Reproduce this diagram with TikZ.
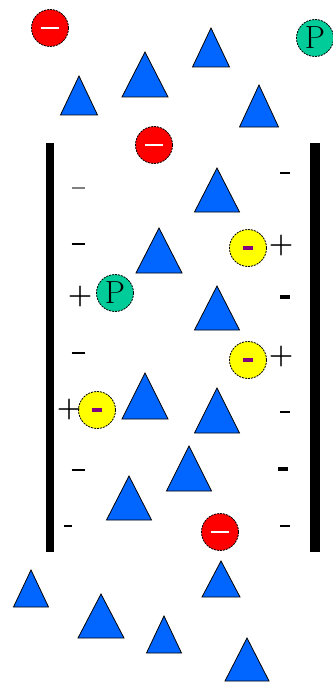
\documentclass[tikz,border=0pt]{standalone}
\usepackage{tikz}

\definecolor{ionblue}{RGB}{0,102,255}
\definecolor{ionred}{RGB}{255,0,0}
\definecolor{iongreen}{RGB}{0,204,153}
\definecolor{ionyellow}{RGB}{255,255,0}
\definecolor{ionpurple}{RGB}{128,0,128}

\tikzset{
  ion/.style={circle,draw=black,dash pattern=on 2pt off 1pt,line width=0.8pt,minimum size=37pt,inner sep=0pt},
  anion/.style={ion,fill=ionred},
  pion/.style={ion,fill=iongreen,font=\fontsize{32}{32}\selectfont},
  yion/.style={ion,fill=ionyellow},
  tri/.style={fill=ionblue,draw=black,line width=0.8pt,line join=miter},
  wall/.style={fill=black},
  sign/.style={inner sep=0pt,font=\fontsize{28}{28}\selectfont\bfseries}
}

\newcommand{\whitebar}{\textcolor{white}{\rule{18pt}{2.5pt}}}
\newcommand{\purplebar}{\textcolor{ionpurple}{\rule{10pt}{3.5pt}}}
\newcommand{\thinbar}[1]{\rule{#1}{1.5pt}}
\newcommand{\boldbar}[1]{\rule{#1}{3.5pt}}

\begin{document}
\begin{tikzpicture}[x=1pt,y=-1pt]
        \useasboundingbox (0,0) rectangle (332,682);

        % membrane walls
        \fill[wall] (46,143) rectangle (54,552);
        \fill[wall] (310,143) rectangle (320,552);

        % blue triangles: apex x / base y / half width / height
        \foreach \x/\y/\w/\h in {211/67/18.5/39, 145/97/23/45, 79/115/18.5/39,
                259/127/19.5/42, 217/212/22.5/44, 159/273/23/45,
                217/330/22.5/44, 145/419/23/46, 217/433/22.5/45,
                189/491/22.5/45, 129/520/22.5/44, 221/597/19/36,
                31/607/17.5/37, 101/638/23/44, 164/653/17.5/37, 247/681/22/43}
            \filldraw[tri] (\x-\w,\y) -- (\x,\y-\h) -- (\x+\w,\y) -- cycle;

        % ions
        \node[anion] (r1) at (50,28) {\whitebar};
        \node[anion] (r2) at (154,145) {\whitebar};
        \node[anion] (r3) at (220,532) {\whitebar};
        \node[pion] (p1) at (315,38) {P};
        \node[pion] (p2) at (115,293) {P};
        \node[yion] (y1) at (248,248) {\purplebar};
        \node[yion] (y2) at (248,360) {\purplebar};
        \node[yion] (y3) at (97,410) {\purplebar};

        % charges on the left wall
        \node[sign,text=gray] (l1) at (78,188) {\thinbar{13pt}};
        \node[sign] (l2) at (78,244) {\thinbar{13pt}};
        \node[sign] (l3) at (80,297) {+};
        \node[sign] (l4) at (78,353) {\thinbar{13pt}};
        \node[sign] (l5) at (69,410) {+};
        \node[sign] (l6) at (78,470) {\thinbar{13pt}};
        \node[sign] (l7) at (68,526) {\thinbar{8pt}};

        % charges on the right wall
        \node[sign] (s1) at (285,173) {\thinbar{10pt}};
        \node[sign] (s2) at (281,246) {+};
        \node[sign] (s3) at (285,297) {\boldbar{10pt}};
        \node[sign] (s4) at (281,357) {+};
        \node[sign] (s5) at (285,412) {\thinbar{10pt}};
        \node[sign] (s6) at (283,469) {\boldbar{10pt}};
        \node[sign] (s7) at (285,526) {\thinbar{10pt}};
    \end{tikzpicture}
\end{document}
